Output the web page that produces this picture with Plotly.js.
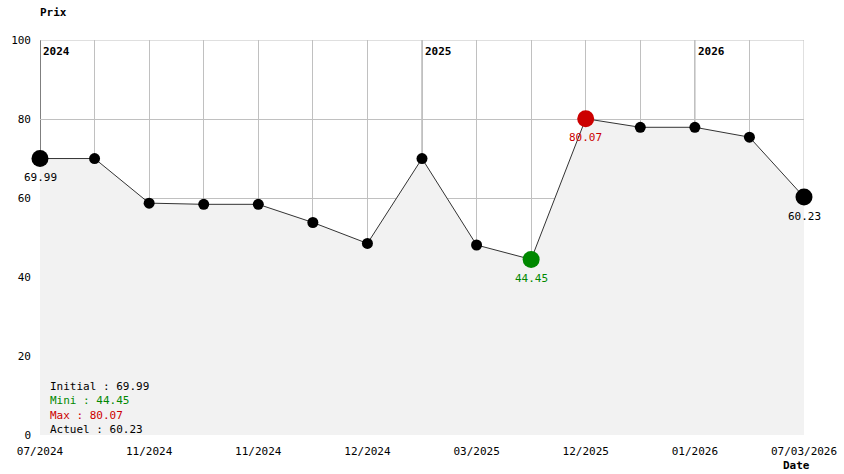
<!DOCTYPE html>
<html><head><meta charset="utf-8">
<script src="https://cdn.plot.ly/plotly-3.0.1.min.js"></script>
<style>html,body{margin:0;padding:0;background:#fff}#c{width:844px;height:474px}</style>
</head><body><div id="c"></div>
<script>
const positions = [0,1,2,3,4,5,6,7,8,9,10,11,12,13,14];
const prices = [69.99,69.99,58.7,58.4,58.4,53.8,48.5,69.99,48.1,44.45,80.07,77.9,77.9,75.4,60.23];
const tickLabels = ["07/2024","","11/2024","","11/2024","","12/2024","","03/2025","","12/2025","","01/2026","","07/03/2026"];
const years = ["2024","2025","2026"];
const yearPos = [0,7,12];
const yTicks = [0,20,40,60,80,100];
const stats = [["Initial",69.99,"#000000"],["Mini",44.45,"#008800"],["Max",80.07,"#cc0000"],["Actuel",60.23,"#000000"]];

const FONT = "DejaVu Sans Mono, Liberation Mono, monospace";
const minI = prices.indexOf(Math.min(...prices));
const maxI = prices.indexOf(Math.max(...prices));
const last = prices.length-1;

const sizes = prices.map((v,i)=> (i===0||i===last||i===minI||i===maxI)?17:11);
const colors = prices.map((v,i)=> i===minI?"#008800":(i===maxI?"#cc0000":"#000000"));

const traces = [
  {x:positions,y:prices,type:"scatter",mode:"lines",fill:"tozeroy",fillcolor:"#f2f2f2",
   line:{color:"#333333",width:1},hoverinfo:"skip",cliponaxis:false},
  {x:positions,y:prices,type:"scatter",mode:"markers",cliponaxis:false,
   marker:{size:sizes,color:colors,opacity:1,line:{width:0}},hoverinfo:"skip"}
];

const shapes = yearPos.map((p,i)=>({type:"line",xref:"x",yref:"y",x0:p,x1:p,y0:0,y1:100,layer:"below",
  line:{color:i===0?"#000000":"#999999",width:1}}));
shapes.push({type:"line",xref:"x",yref:"y",x0:0,x1:14,y0:100,y1:100,layer:"below",line:{color:"#c0c0c0",width:1}});
shapes.push({type:"line",xref:"x",yref:"y",x0:14,x1:14,y0:0,y1:100,layer:"below",line:{color:"#c0c0c0",width:1}});

const annotations = [];
yearPos.forEach((p,i)=>annotations.push({x:p,y:100,xref:"x",yref:"y",text:"<b>"+years[i]+"</b>",showarrow:false,
  xanchor:"left",yanchor:"top",xshift:1,yshift:-3,font:{family:FONT,size:11,color:"#000"}}));
[[0,"#000"],[minI,"#008800"],[maxI,"#cc0000"],[last,"#000"]].forEach(([i,c])=>annotations.push({
  x:positions[i],y:prices[i],xref:"x",yref:"y",text:prices[i].toFixed(2),showarrow:false,
  xanchor:"center",yanchor:"middle",yshift:-19,font:{family:FONT,size:11,color:c}}));
annotations.push({x:0,y:1,xref:"paper",yref:"paper",text:"<b>Prix</b>",showarrow:false,xanchor:"left",yanchor:"bottom",
  xshift:-2,yshift:19,font:{family:FONT,size:11,color:"#000"}});
annotations.push({x:1,y:0,xref:"paper",yref:"paper",text:"<b>Date</b>",showarrow:false,xanchor:"right",yanchor:"top",
  xshift:8,yshift:-22,font:{family:FONT,size:11,color:"#000"}});
annotations.push({x:0,y:0,xref:"paper",yref:"paper",showarrow:false,xanchor:"left",yanchor:"bottom",align:"left",
  xshift:8,yshift:-3,font:{family:FONT,size:11,color:"#000"},
  text:stats.map(s=>'<span style="color:'+s[2]+'">'+s[0]+" : "+s[1].toFixed(2)+"</span>").join("<br>")});

const layout = {
  width:844,height:474,margin:{l:40,r:40,t:40,b:39},
  paper_bgcolor:"#ffffff",plot_bgcolor:"#ffffff",showlegend:false,
  font:{family:FONT,size:11,color:"#000"},
  xaxis:{range:[0,14],tickvals:positions,ticktext:tickLabels,showgrid:true,gridcolor:"#c0c0c0",gridwidth:1,
    zeroline:false,showline:false,ticks:"",ticklabelstandoff:8,tickfont:{family:FONT,size:11},fixedrange:true},
  yaxis:{range:[0,100],tickvals:yTicks,showgrid:true,gridcolor:"#c0c0c0",gridwidth:1,zeroline:false,showline:false,
    ticks:"",ticklabelstandoff:8,tickfont:{family:FONT,size:11},fixedrange:true},
  shapes:shapes,annotations:annotations
};
Plotly.newPlot("c",traces,layout,{staticPlot:true,displayModeBar:false});
</script></body></html>
